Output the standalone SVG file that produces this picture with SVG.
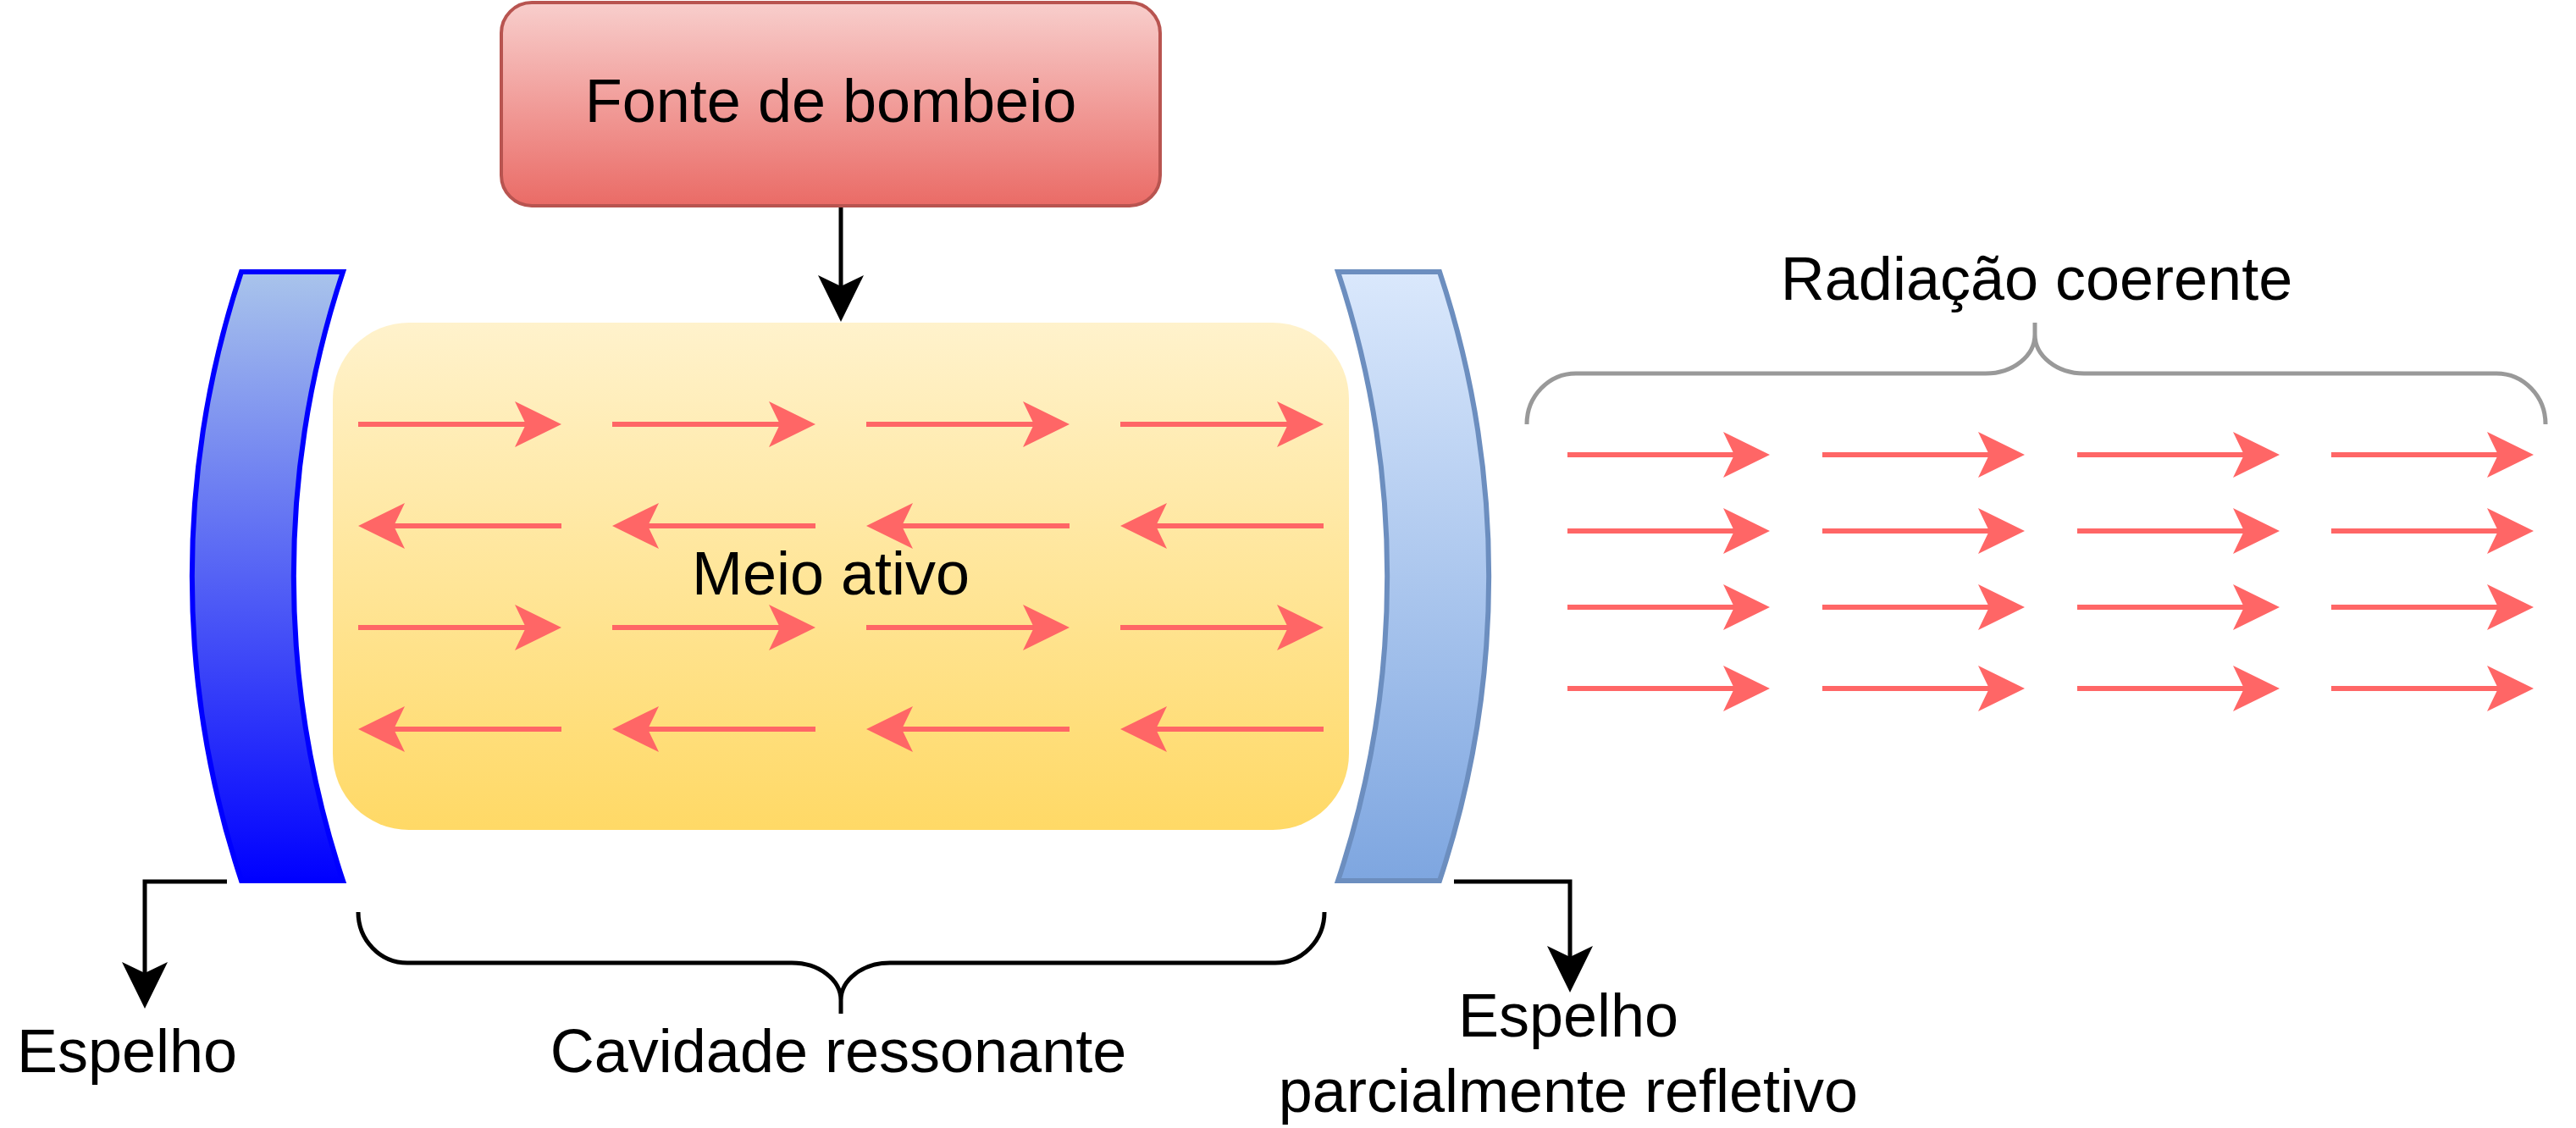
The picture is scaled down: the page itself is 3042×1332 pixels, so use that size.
<svg xmlns="http://www.w3.org/2000/svg" width="3042" height="1332" viewBox="0 0 3042 1332">
  <defs>
    <linearGradient id="gPump" x1="0" y1="0" x2="0" y2="1">
      <stop offset="0" stop-color="#f8cecc"/>
      <stop offset="1" stop-color="#ea6b66"/>
    </linearGradient>
    <linearGradient id="gMedium" x1="0" y1="0" x2="0" y2="1">
      <stop offset="0" stop-color="#fff2cc"/>
      <stop offset="1" stop-color="#ffd966"/>
    </linearGradient>
    <linearGradient id="gMirrorL" x1="0" y1="0" x2="0" y2="1">
      <stop offset="0" stop-color="#a9c4eb"/>
      <stop offset="1" stop-color="#0000ff"/>
    </linearGradient>
    <linearGradient id="gMirrorR" x1="0" y1="0" x2="0" y2="1">
      <stop offset="0" stop-color="#dae8fc"/>
      <stop offset="1" stop-color="#7ea6e0"/>
    </linearGradient>
    <marker id="headBlack" markerUnits="userSpaceOnUse" viewBox="0 0 55 54" refX="13" refY="27" markerWidth="55" markerHeight="54" orient="auto">
      <path d="M0,0 L55,27 L0,54 L13,27 Z" fill="#000000"/>
    </marker>
    <marker id="headRed" markerUnits="userSpaceOnUse" viewBox="0 0 55 54" refX="13" refY="27" markerWidth="55" markerHeight="54" orient="auto">
      <path d="M0,0 L55,27 L0,54 L13,27 Z" fill="#ff6666"/>
    </marker>
  </defs>
  <style>
    text { font-family: "Liberation Sans", Arial, Helvetica, sans-serif; font-size: 72px; fill: #000000; text-anchor: middle; }
    .conn { fill: none; stroke: #000000; stroke-width: 5; marker-end: url(#headBlack); }
    .ray { fill: none; stroke: #ff6666; stroke-width: 6; marker-end: url(#headRed); }
    .brace { fill: none; stroke-width: 5; }
  </style>
  <rect width="3042" height="1332" fill="#ffffff"/>

  <g id="pump">
    <rect x="592" y="3" width="778" height="240" rx="36" ry="36" fill="url(#gPump)" stroke="#b85450" stroke-width="4"/>
    <text x="981" y="144">Fonte de bombeio</text>
  </g>

  <g id="mirror-left">
    <path d="M 285 321 L 405 321 A 1140 1140 0 0 0 405 1040 L 285 1040 A 1140 1140 0 0 1 285 321 Z" fill="url(#gMirrorL)" stroke="#0000ff" stroke-width="6" stroke-linejoin="miter"/>
  </g>

  <g id="mirror-right">
    <path d="M 1580 321 L 1700 321 A 1140 1140 0 0 1 1700 1040 L 1580 1040 A 1140 1140 0 0 0 1580 321 Z" fill="url(#gMirrorR)" stroke="#6c8ebf" stroke-width="6" stroke-linejoin="miter"/>
  </g>

  <g id="active-medium">
    <rect x="393" y="381" width="1200" height="599" rx="90" ry="90" fill="url(#gMedium)"/>
    <g id="cavity-rays">
      <path class="ray" d="M 423 501 L 621 501"/>
      <path class="ray" d="M 723 501 L 921 501"/>
      <path class="ray" d="M 1023 501 L 1221 501"/>
      <path class="ray" d="M 1323 501 L 1521 501"/>
      <path class="ray" d="M 663 621 L 465 621"/>
      <path class="ray" d="M 963 621 L 765 621"/>
      <path class="ray" d="M 1263 621 L 1065 621"/>
      <path class="ray" d="M 1563 621 L 1365 621"/>
      <path class="ray" d="M 423 741 L 621 741"/>
      <path class="ray" d="M 723 741 L 921 741"/>
      <path class="ray" d="M 1023 741 L 1221 741"/>
      <path class="ray" d="M 1323 741 L 1521 741"/>
      <path class="ray" d="M 663 861 L 465 861"/>
      <path class="ray" d="M 963 861 L 765 861"/>
      <path class="ray" d="M 1263 861 L 1065 861"/>
      <path class="ray" d="M 1563 861 L 1365 861"/>
    </g>
    <text x="981" y="702">Meio ativo</text>
  </g>

  <g id="coherent-radiation">
    <path class="brace" stroke="#999999" d="M 1803 501 A 58 60 0 0 1 1861 441 L 2345 441 A 58 46 0 0 0 2403 395 L 2403 381 M 2403 395 A 58 46 0 0 0 2461 441 L 2948 441 A 58 60 0 0 1 3006 501"/>
    <text x="2405" y="354">Radiação coerente</text>
    <g id="output-rays">
      <path class="ray" d="M 1851 537 L 2048 537"/>
      <path class="ray" d="M 2152 537 L 2349 537"/>
      <path class="ray" d="M 2453 537 L 2650 537"/>
      <path class="ray" d="M 2753 537 L 2950 537"/>
      <path class="ray" d="M 1851 627 L 2048 627"/>
      <path class="ray" d="M 2152 627 L 2349 627"/>
      <path class="ray" d="M 2453 627 L 2650 627"/>
      <path class="ray" d="M 2753 627 L 2950 627"/>
      <path class="ray" d="M 1851 717 L 2048 717"/>
      <path class="ray" d="M 2152 717 L 2349 717"/>
      <path class="ray" d="M 2453 717 L 2650 717"/>
      <path class="ray" d="M 2753 717 L 2950 717"/>
      <path class="ray" d="M 1851 813 L 2048 813"/>
      <path class="ray" d="M 2152 813 L 2349 813"/>
      <path class="ray" d="M 2453 813 L 2650 813"/>
      <path class="ray" d="M 2753 813 L 2950 813"/>
    </g>
  </g>

  <g id="cavity">
    <path class="brace" stroke="#000000" d="M 423 1077 A 58 60 0 0 0 481 1137 L 935 1137 A 58 44 0 0 1 993 1181 L 993 1197 M 993 1181 A 58 44 0 0 1 1051 1137 L 1506 1137 A 58 60 0 0 0 1564 1077"/>
    <text x="990" y="1266">Cavidade ressonante</text>
  </g>

  <g id="label-mirror-left">
    <text x="150" y="1266">Espelho</text>
  </g>

  <g id="label-mirror-right">
    <text x="1852" y="1224">Espelho</text>
    <text x="1852" y="1313">parcialmente refletivo</text>
  </g>

  <g id="connectors">
    <path class="conn" d="M 993 245 L 993 338"/>
    <path class="conn" d="M 268 1041 L 171 1041 L 171 1149"/>
    <path class="conn" d="M 1717 1041 L 1854 1041 L 1854 1130"/>
  </g>
</svg>
